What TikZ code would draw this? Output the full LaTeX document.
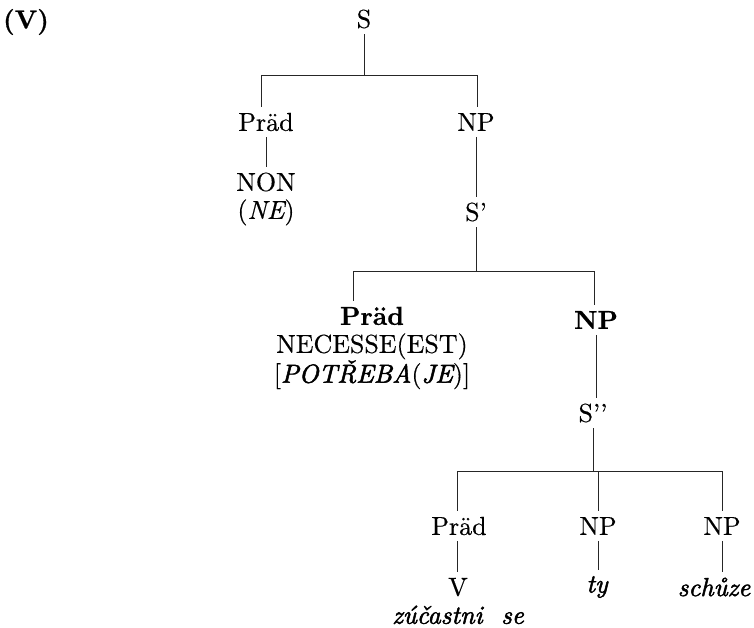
\documentclass[tikz,border=0pt]{standalone}
\usepackage{fontspec}
\newfontfamily\heavyit{lmroman10-italic.otf}[FakeBold=2]
\newfontfamily\lightit{lmroman10-italic.otf}[FakeBold=0.5]
\newfontfamily\heavyrm{lmroman10-regular.otf}[FakeBold=0.4]
\newfontfamily\heavybf{lmroman10-bold.otf}[FakeBold=0.6]
\usetikzlibrary{calc}
\tikzset{
  lab/.style={inner sep=0pt, outer ysep=6pt, align=center, font=\fontsize{26}{28}\selectfont\heavyrm},
  labb/.style={lab, font=\fontsize{26}{28}\selectfont\heavybf},
  edge/.style={line width=0.8pt, black!85}
}
\begin{document}
\begin{tikzpicture}[x=1pt,y=-1pt]
\useasboundingbox (0,0) rectangle (754,628);
% nodes
\node[labb] (vlab) at (26,22) {(V)};
\node[lab] (S) at (364,19) {S};
\coordinate (j1) at (364,75);
\coordinate (b1l) at (261,75);
\coordinate (b1r) at (477,75);
\node[lab] (P1) at (266,122) {Präd};
\node[lab] (NP1) at (476,122) {NP};
\node[lab] (NON) at (266,199) {NON\\({\lightit NE})};
\node[lab] (S1) at (476,212) {S’};
\coordinate (b2l) at (353,271);
\coordinate (b2r) at (594,271);
\node[lab] (P2) at (372,348) {{\heavybf Präd}\\NECESSE(EST)\\{}[{\heavyit POTŘEBA}({\heavyit JE})]};
\node[labb] (NP2) at (596,320) {NP};
\node[lab] (S2) at (593,413) {S’’};
\coordinate (b3l) at (457,471);
\coordinate (b3m) at (598,471);
\coordinate (b3r) at (722,471);
\node[lab] (P3) at (459,526) {Präd};
\node[lab] (NP3) at (598,526) {NP};
\node[lab] (NP4) at (722,526) {NP};
\node[lab] (V) at (458,601) {V\\{\heavyit zúčastni\ \ se}};
\node[lab] (ty) at (597,587) {{\heavyit ty}};
\node[lab] (sch) at (714,587) {{\heavyit schůze}};
% connectors
\draw[edge] (S.south) -- (j1);
\draw[edge] (b1l) -- (b1r);
\draw[edge] (b1l) -- (b1l |- P1.north);
\draw[edge] (b1r) -- (b1r |- NP1.north);
\draw[edge] (P1.south) -- (P1.south |- NON.north);
\draw[edge] (NP1.south) -- (NP1.south |- S1.north);
\draw[edge] (S1.south) -- (S1.south |- b2l);
\draw[edge] (b2l) -- (b2r);
\draw[edge] (b2l) -- (b2l |- P2.north);
\draw[edge] (b2r) -- (b2r |- NP2.north);
\draw[edge] (NP2.south) -- (NP2.south |- S2.north);
\draw[edge] (S2.south) -- (S2.south |- b3l);
\draw[edge] (b3l) -- (b3r);
\draw[edge] (b3l) -- (b3l |- P3.north);
\draw[edge] (b3m) -- (b3m |- NP3.north);
\draw[edge] (b3r) -- (b3r |- NP4.north);
\draw[edge] (b3l |- P3.south) -- (b3l |- V.north);
\draw[edge] (NP3.south) -- (NP3.south |- ty.north);
\draw[edge] (b3r |- NP4.south) -- (b3r |- sch.north);
\end{tikzpicture}
\end{document}
